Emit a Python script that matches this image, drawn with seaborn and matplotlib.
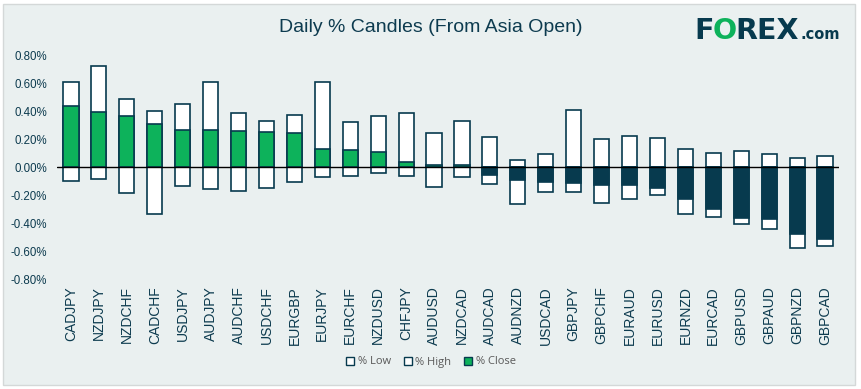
import pandas as pd
import matplotlib.pyplot as plt
import seaborn as sns
from matplotlib.patches import Patch, Rectangle

sns.set_theme(style="white")
plt.rcParams['font.family'] = ['Liberation Sans', 'DejaVu Sans']

# Daily candles from Asia open, in percent
pairs = ['CADJPY', 'NZDJPY', 'NZDCHF', 'CADCHF', 'USDJPY', 'AUDJPY', 'AUDCHF',
         'USDCHF', 'EURGBP', 'EURJPY', 'EURCHF', 'NZDUSD', 'CHFJPY', 'AUDUSD',
         'NZDCAD', 'AUDCAD', 'AUDNZD', 'USDCAD', 'GBPJPY', 'GBPCHF', 'EURAUD',
         'EURUSD', 'EURNZD', 'EURCAD', 'GBPUSD', 'GBPAUD', 'GBPNZD', 'GBPCAD']
pct_high = [0.605, 0.724, 0.483, 0.398, 0.448, 0.605, 0.383, 0.326, 0.369, 0.605,
            0.319, 0.362, 0.383, 0.240, 0.326, 0.212, 0.048, 0.090, 0.405, 0.198,
            0.219, 0.205, 0.126, 0.098, 0.112, 0.090, 0.062, 0.076]
pct_low = [-0.102, -0.088, -0.188, -0.338, -0.138, -0.160, -0.174, -0.152, -0.110,
           -0.074, -0.067, -0.045, -0.067, -0.145, -0.074, -0.124, -0.267, -0.181,
           -0.181, -0.260, -0.231, -0.202, -0.338, -0.360, -0.410, -0.445, -0.581,
           -0.567]
pct_close = [0.433, 0.390, 0.362, 0.305, 0.262, 0.262, 0.255, 0.248, 0.240, 0.126,
             0.119, 0.105, 0.033, 0.012, 0.012, -0.060, -0.090, -0.107, -0.112,
             -0.126, -0.126, -0.148, -0.226, -0.300, -0.364, -0.371, -0.476, -0.512]

GREEN = '#0DB25B'
NAVY = '#073A4E'
BG = '#EAF0F0'
TXT = '#0D3B4F'

df = pd.DataFrame({'pair': pairs, 'high': pct_high, 'low': pct_low, 'close': pct_close})
df['dir'] = ['up' if c >= 0 else 'down' for c in df['close']]

fig = plt.figure(figsize=(8.62, 3.89), dpi=100)
fig.patch.set_facecolor('white')
fig.patches.append(Rectangle((3 / 862, 4 / 389), 852 / 862, 381 / 389, transform=fig.transFigure,
                             facecolor=BG, edgecolor='#D4D8D8', lw=1.0, zorder=-10))

ax = fig.add_axes([57 / 862, 1 - 279 / 389, 782 / 862, 224 / 389])
ax.set_facecolor('none')

bw = 0.54
kw = dict(edgecolor=NAVY, linewidth=1.2, width=bw, ax=ax)
sns.barplot(data=df, x='pair', y='high', color='white', saturation=1, **kw)
sns.barplot(data=df, x='pair', y='low', color='white', saturation=1, **kw)
sns.barplot(data=df, x='pair', y='close', hue='dir', palette={'up': GREEN, 'down': NAVY},
            dodge=False, saturation=1, legend=False, **kw)

ax.axhline(0, color='black', lw=1.0, zorder=5)
ax.set_xlim(-0.5, len(pairs) - 0.5)
ax.set_ylim(-0.8, 0.8)
ax.set_yticks([-0.8, -0.6, -0.4, -0.2, 0.0, 0.2, 0.4, 0.6, 0.8])
ax.set_yticklabels([f'{v:.2f}%' for v in ax.get_yticks()])
ax.set_xlabel('')
ax.set_ylabel('')
for s in ax.spines.values():
    s.set_visible(False)
ax.tick_params(axis='y', length=0, pad=7, labelsize=8.3, labelcolor=TXT)
ax.tick_params(axis='x', length=0, pad=5, labelsize=10, labelcolor=TXT)
plt.setp(ax.get_xticklabels(), rotation=90, va='top', ha='center')

fig.text(0.5, 1 - 27 / 389, 'Daily % Candles (From Asia Open)', ha='center', va='center',
         fontsize=14, color=TXT)

# logo
fig.canvas.draw()
rend = fig.canvas.get_renderer()
x = 694
for part, col, size, w in [('F', NAVY, 20.5, 'heavy'), ('O', GREEN, 20.5, 'heavy'),
                           ('REX', NAVY, 20.5, 'heavy'), ('.com', NAVY, 10.5, 'bold')]:
    t = fig.text(x / 862, 1 - 39 / 389, part, ha='left', va='baseline', fontsize=size,
                 color=col, fontweight=w, family='DejaVu Sans')
    x += t.get_window_extent(rend).width + (1 if part == 'REX' else -1)

handles = [Patch(facecolor='white', edgecolor=NAVY, label='% Low'),
           Patch(facecolor='white', edgecolor=NAVY, label='% High'),
           Patch(facecolor=GREEN, edgecolor=NAVY, label='% Close')]
fig.legend(handles=handles, loc='center', bbox_to_anchor=(0.5, 1 - 362 / 389), ncol=3,
           frameon=False, labelcolor='#595959', handlelength=0.7,
           handleheight=0.7, handletextpad=0.3, columnspacing=1.2,
           prop={'family': 'Open Sans', 'size': 8})

fig.savefig('out.png', dpi=100)
